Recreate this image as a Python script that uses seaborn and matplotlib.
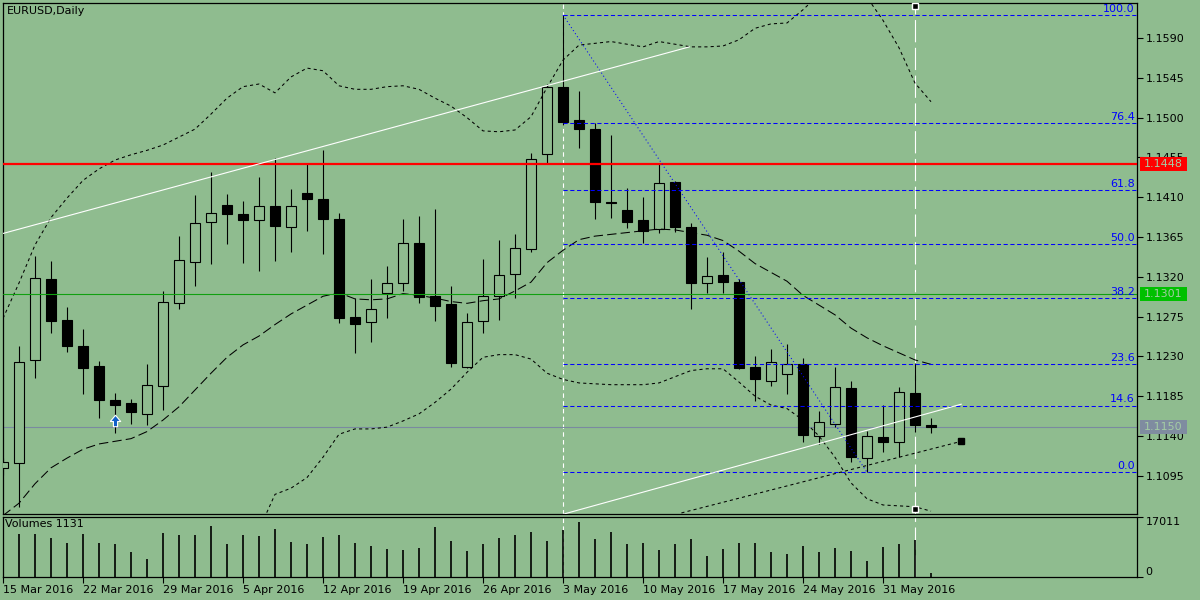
import numpy as np
import pandas as pd
import seaborn as sns
import matplotlib
matplotlib.use('Agg')
import matplotlib.pyplot as plt
import matplotlib.transforms as mtransforms
from matplotlib.patches import Rectangle

# EURUSD daily bars, 15 Mar 2016 - 3 Jun 2016
dates = pd.bdate_range('2016-03-15', '2016-06-03')

open_ = [1.1104, 1.1109, 1.1226, 1.1318, 1.1271, 1.1242, 1.1219, 1.1181, 1.1177, 1.1165,
         1.1197, 1.1290, 1.1337, 1.1382, 1.1401, 1.1391, 1.1384, 1.1400, 1.1376, 1.1415,
         1.1408, 1.1385, 1.1274, 1.1269, 1.1302, 1.1313, 1.1358, 1.1298, 1.1289, 1.1218,
         1.1270, 1.1298, 1.1323, 1.1351, 1.1459, 1.1535, 1.1497, 1.1487, 1.1405, 1.1396,
         1.1384, 1.1374, 1.1427, 1.1376, 1.1313, 1.1322, 1.1314, 1.1218, 1.1202, 1.1210,
         1.1221, 1.1140, 1.1154, 1.1194, 1.1115, 1.1139, 1.1133, 1.1189, 1.1152]
high = [1.1115, 1.1242, 1.1344, 1.1338, 1.1286, 1.1261, 1.1225, 1.1189, 1.1182, 1.1221,
        1.1304, 1.1366, 1.1412, 1.1439, 1.1414, 1.1406, 1.1433, 1.1454, 1.1419, 1.1449,
        1.1463, 1.1392, 1.1296, 1.1318, 1.1332, 1.1385, 1.1389, 1.1397, 1.1310, 1.1279,
        1.1340, 1.1362, 1.1368, 1.1460, 1.1538, 1.1616, 1.1530, 1.1494, 1.1480, 1.1420,
        1.1410, 1.1449, 1.1428, 1.1381, 1.1342, 1.1348, 1.1317, 1.1230, 1.1238, 1.1244,
        1.1228, 1.1168, 1.1218, 1.1202, 1.1146, 1.1175, 1.1195, 1.1223, 1.1160]
low = [1.1096, 1.1060, 1.1206, 1.1257, 1.1235, 1.1187, 1.1160, 1.1143, 1.1154, 1.1152,
       1.1169, 1.1284, 1.1310, 1.1334, 1.1357, 1.1336, 1.1327, 1.1338, 1.1348, 1.1372,
       1.1346, 1.1268, 1.1234, 1.1246, 1.1273, 1.1304, 1.1290, 1.1270, 1.1218, 1.1217,
       1.1257, 1.1271, 1.1296, 1.1348, 1.1449, 1.1492, 1.1466, 1.1385, 1.1387, 1.1375,
       1.1358, 1.1370, 1.1371, 1.1284, 1.1302, 1.1302, 1.1216, 1.1180, 1.1197, 1.1187,
       1.1133, 1.1131, 1.1150, 1.1111, 1.1099, 1.1122, 1.1116, 1.1145, 1.1143]
close = [1.1111, 1.1224, 1.1319, 1.1270, 1.1242, 1.1217, 1.1181, 1.1175, 1.1167, 1.1198,
         1.1291, 1.1339, 1.1381, 1.1392, 1.1391, 1.1384, 1.1400, 1.1377, 1.1400, 1.1408,
         1.1385, 1.1273, 1.1267, 1.1284, 1.1313, 1.1358, 1.1297, 1.1287, 1.1222, 1.1269,
         1.1298, 1.1322, 1.1353, 1.1453, 1.1535, 1.1495, 1.1487, 1.1405, 1.1404, 1.1382,
         1.1372, 1.1426, 1.1376, 1.1313, 1.1321, 1.1314, 1.1217, 1.1205, 1.1224, 1.1221,
         1.1141, 1.1156, 1.1195, 1.1116, 1.1140, 1.1133, 1.1190, 1.1152, 1.1150]
volume = [11000, 12100, 12100, 10940, 9600, 12100, 9600, 9300, 7200, 5180,
          12470, 11800, 11800, 14490, 9220, 11800, 11520, 13540, 9800, 9220,
          11320, 11800, 9500, 8730, 8060, 7780, 8350, 14200, 10080, 7490,
          9220, 10940, 11800, 12670, 10080, 13250, 15550, 10660, 12670, 9220,
          9500, 7780, 9220, 10660, 6050, 8060, 9500, 9500, 7200, 6620,
          8930, 7200, 8350, 7490, 4610, 8640, 9220, 10370, 1131]

# bollinger bands
bb_upper = [1.1273, 1.1313, 1.1356, 1.1387, 1.1409, 1.1429, 1.1442, 1.1452, 1.1458, 1.1463,
            1.1469, 1.1478, 1.1487, 1.1504, 1.1522, 1.1535, 1.1538, 1.1528, 1.1546, 1.1556,
            1.1553, 1.1536, 1.1532, 1.1532, 1.1535, 1.1536, 1.1532, 1.1522, 1.1513, 1.1500,
            1.1485, 1.1484, 1.1486, 1.1501, 1.1534, 1.1565, 1.1582, 1.1584, 1.1586, 1.1583,
            1.1580, 1.1586, 1.1583, 1.1580, 1.1580, 1.1581, 1.1588, 1.1601, 1.1606, 1.1607,
            1.1622, 1.1639, 1.1650, 1.1650, 1.1636, 1.1610, 1.1579, 1.1539, 1.1518]
bb_mid = [1.1050, 1.1064, 1.1086, 1.1104, 1.1115, 1.1125, 1.1131, 1.1134, 1.1137, 1.1145,
          1.1158, 1.1173, 1.1192, 1.1211, 1.1229, 1.1243, 1.1253, 1.1266, 1.1278, 1.1288,
          1.1298, 1.1302, 1.1295, 1.1294, 1.1295, 1.1301, 1.1299, 1.1296, 1.1292, 1.1290,
          1.1293, 1.1295, 1.1304, 1.1314, 1.1336, 1.1350, 1.1362, 1.1366, 1.1368, 1.1370,
          1.1372, 1.1374, 1.1373, 1.1370, 1.1367, 1.1361, 1.1349, 1.1335, 1.1325, 1.1315,
          1.1299, 1.1288, 1.1277, 1.1262, 1.1251, 1.1242, 1.1234, 1.1226, 1.1221]
bb_lower_start = 16
bb_lower = [1.1034, 1.1074, 1.1081, 1.1093, 1.1116, 1.1142, 1.1148, 1.1148, 1.1150, 1.1157,
            1.1165, 1.1178, 1.1193, 1.1212, 1.1229, 1.1232, 1.1232, 1.1227, 1.1211, 1.1204,
            1.1200, 1.1199, 1.1198, 1.1198, 1.1198, 1.1200, 1.1207, 1.1214, 1.1216, 1.1216,
            1.1201, 1.1185, 1.1175, 1.1171, 1.1158, 1.1140, 1.1116, 1.1087, 1.1069, 1.1062,
            1.1061, 1.1060, 1.1055]

# objects drawn on the chart (bar index, price)
trend_up_bars = [0, 42.9]
trend_up_prices = [1.1369, 1.1580]
trend_low_bars = [35.1, 59.9]
trend_low_prices = [1.1052, 1.1176]
support_bars = [42.4, 59.9]
support_prices = [1.1053, 1.1134]
fib_bars = [35, 54]
fib_prices = [1.1616, 1.1099]
fib_pcts = [0.0, 14.6, 23.6, 38.2, 50.0, 61.8, 76.4, 100.0]
vlines_bars = [35, 57]
red_level = 1.1448
green_level = 1.1301
last_price = 1.1150
arrow_bar, arrow_price = 7, 1.1157

price_ticks = [1.1095, 1.1140, 1.1185, 1.1230, 1.1275, 1.1320, 1.1365,
               1.1410, 1.1455, 1.1500, 1.1545, 1.1590]
vol_ticks = [0, 17011]

BG = '#8fbc8f'
sns.set_theme(style='white', rc={'axes.facecolor': BG, 'figure.facecolor': BG,
                                 'axes.edgecolor': 'black', 'axes.linewidth': 0.9,
                                 'xtick.color': 'black', 'ytick.color': 'black',
                                 'text.color': 'black'})
plt.rcParams['font.family'] = ['DejaVu Sans']
FS = 8

df = pd.DataFrame({'bar': np.arange(len(dates)), 'open': open_, 'high': high,
                   'low': low, 'close': close, 'volume': volume,
                   'upper': bb_upper, 'mid': bb_mid})
low_df = pd.DataFrame({'bar': np.arange(bb_lower_start, bb_lower_start + len(bb_lower)),
                       'lower': bb_lower})

fig = plt.figure(figsize=(12, 6), dpi=100)
ax = fig.add_axes([3 / 1200, 1 - 514 / 600, 1134 / 1200, 511 / 600])
axv = fig.add_axes([3 / 1200, 1 - 577 / 600, 1134 / 1200, 60 / 600])

xmax = 1134 / 16
ax.set_xlim(0, xmax)
ax.set_ylim(1.10518, 1.16296)
axv.set_xlim(0, xmax)
axv.set_ylim(0, 17011)

# candles
bull = df['close'] >= df['open']
ax.vlines(df['bar'], df['low'], df['high'], color='black', lw=0.8, zorder=2)
body = (df['close'] - df['open']).abs().clip(lower=0.00002)
ax.bar(df['bar'], body, bottom=df[['open', 'close']].min(axis=1), width=0.62,
       color=np.where(bull, BG, 'black'), edgecolor='black', linewidth=0.8, zorder=3)

# bands
sns.lineplot(data=df, x='bar', y='upper', ax=ax, color='black', lw=0.75,
             linestyle=(0, (3, 3)), zorder=4)
sns.lineplot(data=df, x='bar', y='mid', ax=ax, color='black', lw=0.75,
             linestyle=(0, (9, 4)), zorder=4)
sns.lineplot(data=low_df, x='bar', y='lower', ax=ax, color='black', lw=0.75,
             linestyle=(0, (3, 3)), zorder=4)

# horizontal levels
ax.axhline(red_level, color='#ff0000', lw=1.6, zorder=5)
ax.axhline(green_level, color='#10a010', lw=0.8, zorder=5)
ax.axhline(last_price, color='#7a8aa0', lw=0.8, zorder=1.5)

# fibonacci
fib_hi, fib_lo = fib_prices
blend = mtransforms.blended_transform_factory(ax.transAxes, ax.transData)
for p in fib_pcts:
    lvl = fib_lo + (fib_hi - fib_lo) * p / 100
    ax.plot([fib_bars[0], xmax], [lvl, lvl], color='#0000ff', lw=0.75,
            linestyle=(0, (4, 2.5)), zorder=5)
    ax.text(0.998, lvl + 0.00012, f'{p:.1f}', transform=blend, ha='right', va='bottom',
            color='#0000ff', fontsize=FS, zorder=6)
ax.plot(fib_bars, fib_prices, color='#0000ff', lw=0.75, linestyle=(0, (1, 2.5)), zorder=5)

# trend lines
ax.plot(trend_up_bars, trend_up_prices, color='white', lw=0.8, zorder=5)
ax.plot(trend_low_bars, trend_low_prices, color='white', lw=0.8, zorder=5)
ax.plot(support_bars, support_prices, color='black', lw=0.75, linestyle=(0, (3, 3)), zorder=5)
ax.plot(support_bars[-1], support_prices[-1], marker='s', ms=4.5, color='black', zorder=6)

# vertical lines (both panels)
for a in (ax, axv):
    a.axvline(vlines_bars[0], color='white', lw=0.8, linestyle=(0, (4, 3)), zorder=1)
    a.axvline(vlines_bars[1], color='white', lw=0.8, linestyle=(0, (20, 5)), zorder=1)
ax.plot([vlines_bars[1]], [1.1626], marker='s', ms=4, mfc='black', mec='white', mew=1,
        zorder=7, clip_on=False)
ax.plot([vlines_bars[1]], [1.1057], marker='s', ms=4, mfc='black', mec='white', mew=1,
        zorder=7, clip_on=False)

# arrow marker
arrow = [(-0.5, 0.0), (0.0, 0.6), (0.5, 0.0), (0.2, 0.0), (0.2, -0.5), (-0.2, -0.5),
         (-0.2, 0.0), (-0.5, 0.0)]
ax.plot([arrow_bar], [arrow_price], marker=arrow, ms=9, mfc='#1060c8', mec='white',
        mew=0.8, zorder=7)

# price axis
ax.yaxis.tick_right()
ax.set_yticks(price_ticks)
ax.set_yticklabels([f'{t:.4f}' for t in price_ticks])
ax.tick_params(axis='y', direction='out', length=4, width=0.8, pad=2, labelsize=FS,
               right=True, left=False)
ax.set_xticks([])
ax.set_xlabel('')
ax.set_ylabel('')

# price boxes on the axis (47 x 14 px)
box_w = 47 / 1134
box_h = 14 / (511 / (1.16296 - 1.10518))
for val, col in [(red_level, '#ff0000'), (green_level, '#00c000'), (last_price, '#7f8ca0')]:
    ax.add_patch(Rectangle((1.0026, val - box_h / 2), box_w, box_h, transform=blend,
                           facecolor=col, edgecolor='none', zorder=10, clip_on=False))
    ax.text(1.0026 + box_w / 2, val, f'{val:.4f}', transform=blend, ha='center',
            va='center', fontsize=FS, color='#a4cca4', zorder=11, clip_on=False)

# volume panel
axv.vlines(df['bar'], 0, df['volume'], color='black', lw=1.2, zorder=3)
axv.yaxis.tick_right()
axv.set_yticks(vol_ticks)
axv.set_yticklabels([str(v) for v in vol_ticks])
for lbl, va in zip(axv.get_yticklabels(), ['bottom', 'top']):
    lbl.set_verticalalignment(va)
axv.tick_params(axis='y', direction='out', length=4, width=0.8, pad=2, labelsize=FS,
                right=True, left=False)
tick_idx = list(range(0, len(dates), 5))
axv.set_xticks(tick_idx)
axv.set_xticklabels([f'{dates[i].day} {dates[i]:%b %Y}' for i in tick_idx], ha='left')
axv.tick_params(axis='x', direction='out', length=4, width=0.8, pad=2, labelsize=FS,
                bottom=True)

fig.text(7 / 1200, 1 - 11 / 600, 'EURUSD,Daily', fontsize=FS, va='center', ha='left')
fig.text(5 / 1200, 1 - 524 / 600, 'Volumes 1131', fontsize=FS, va='center', ha='left')

fig.savefig('out.png', dpi=100, facecolor=BG)
